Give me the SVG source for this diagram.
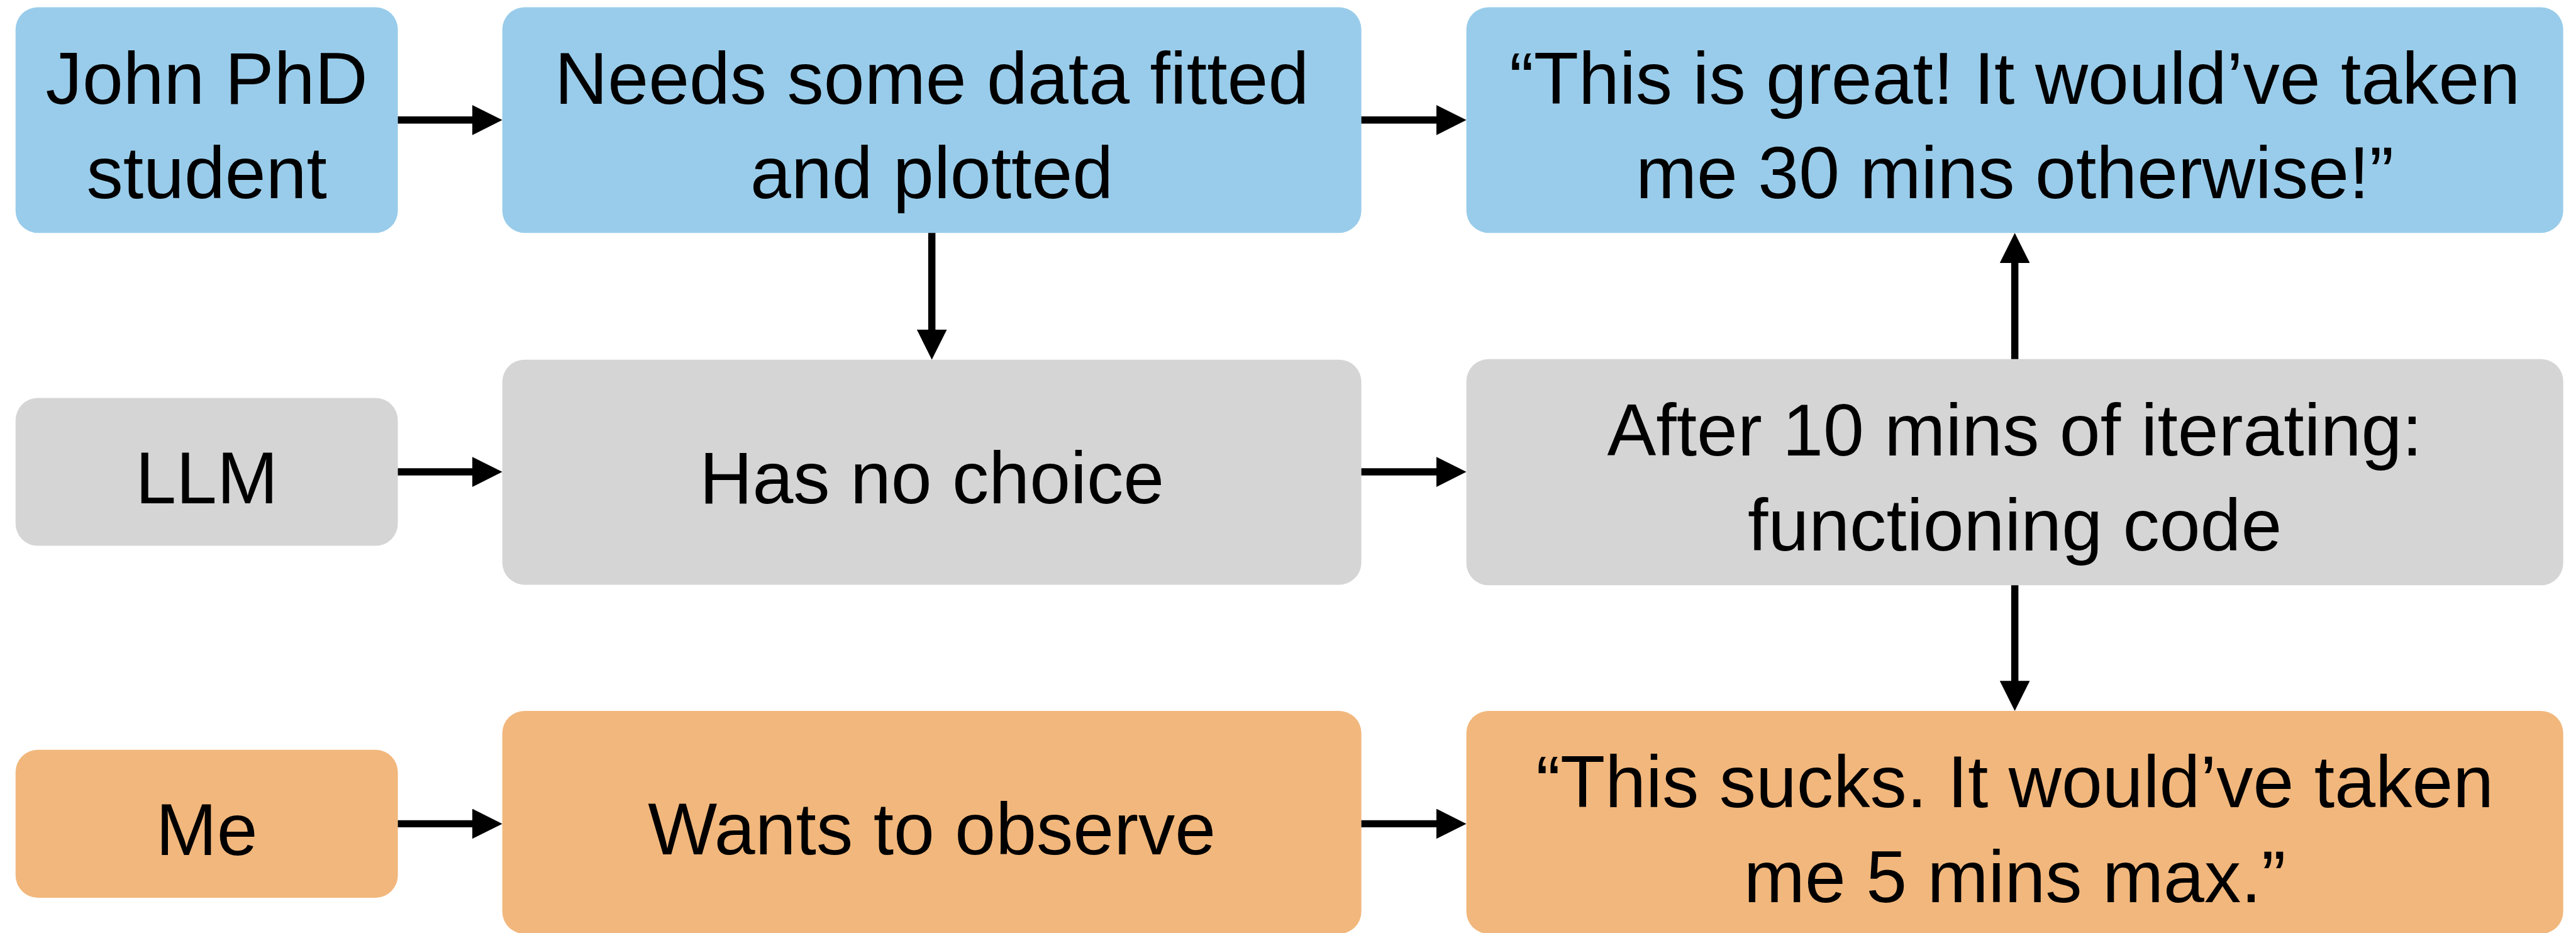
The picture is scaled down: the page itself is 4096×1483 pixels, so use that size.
<svg xmlns="http://www.w3.org/2000/svg" width="4096" height="1483" viewBox="0 0 4096 1483">
  <style>
    .box { rx: 40px; ry: 40px; }
    .blue { fill: #99CCEA; }
    .gray { fill: #D5D5D5; }
    .orange { fill: #F2B77C; }
    .lbl { font-family: "Liberation Sans", Arial, sans-serif; font-size: 132px; fill: #000; text-anchor: middle; }
    .conn { stroke: #000; stroke-width: 13; fill: none; }
  </style>
  <defs>
    <marker id="ah" markerUnits="userSpaceOnUse" markerWidth="54" markerHeight="54" refX="4" refY="27" orient="auto" viewBox="0 0 54 54">
      <path d="M0,0 L54,27 L0,54 Z" fill="#000"/>
    </marker>
  </defs>
  <rect width="4096" height="1483" fill="#fff"/>
  <g transform="scale(0.88352)">
    <g id="john">
      <rect class="box blue" x="28" y="13" width="688" height="406" rx="40"/>
      <text class="lbl" x="372" y="187">John PhD</text>
      <text class="lbl" x="372" y="357">student</text>
    </g>
    <g id="needs">
      <rect class="box blue" x="904" y="13" width="1546" height="406" rx="40"/>
      <text class="lbl" x="1677" y="187">Needs some data fitted</text>
      <text class="lbl" x="1677" y="357">and plotted</text>
    </g>
    <g id="great">
      <rect class="box blue" x="2639" y="13" width="1974" height="406" rx="40"/>
      <text class="lbl" x="3626" y="187">“This is great! It would’ve taken</text>
      <text class="lbl" x="3626" y="357">me 30 mins otherwise!”</text>
    </g>
    <g id="llm">
      <rect class="box gray" x="28" y="716" width="688" height="266" rx="40"/>
      <text class="lbl" x="372" y="905">LLM</text>
    </g>
    <g id="nochoice">
      <rect class="box gray" x="904" y="647" width="1546" height="405" rx="40"/>
      <text class="lbl" x="1677" y="905">Has no choice</text>
    </g>
    <g id="after">
      <rect class="box gray" x="2639" y="646" width="1974" height="407" rx="40"/>
      <text class="lbl" x="3626" y="820">After 10 mins of iterating:</text>
      <text class="lbl" x="3626" y="990">functioning code</text>
    </g>
    <g id="me">
      <rect class="box orange" x="28" y="1349" width="688" height="266" rx="40"/>
      <text class="lbl" x="372" y="1538">Me</text>
    </g>
    <g id="observe">
      <rect class="box orange" x="904" y="1279" width="1546" height="401" rx="40"/>
      <text class="lbl" x="1677" y="1537">Wants to observe</text>
    </g>
    <g id="sucks">
      <rect class="box orange" x="2639" y="1279" width="1974" height="401" rx="40"/>
      <text class="lbl" x="3626" y="1452">“This sucks. It would’ve taken</text>
      <text class="lbl" x="3626" y="1623">me 5 mins max.”</text>
    </g>
    <g id="connectors">
      <line class="conn" x1="716" y1="216" x2="854" y2="216" marker-end="url(#ah)"/>
      <line class="conn" x1="2450" y1="216" x2="2589" y2="216" marker-end="url(#ah)"/>
      <line class="conn" x1="716" y1="849" x2="854" y2="849" marker-end="url(#ah)"/>
      <line class="conn" x1="2450" y1="849" x2="2589" y2="849" marker-end="url(#ah)"/>
      <line class="conn" x1="716" y1="1482" x2="854" y2="1482" marker-end="url(#ah)"/>
      <line class="conn" x1="2450" y1="1482" x2="2589" y2="1482" marker-end="url(#ah)"/>
      <line class="conn" x1="1677" y1="419" x2="1677" y2="597" marker-end="url(#ah)"/>
      <line class="conn" x1="3626" y1="646" x2="3626" y2="469" marker-end="url(#ah)"/>
      <line class="conn" x1="3626" y1="1053" x2="3626" y2="1229" marker-end="url(#ah)"/>
    </g>
  </g>
</svg>
